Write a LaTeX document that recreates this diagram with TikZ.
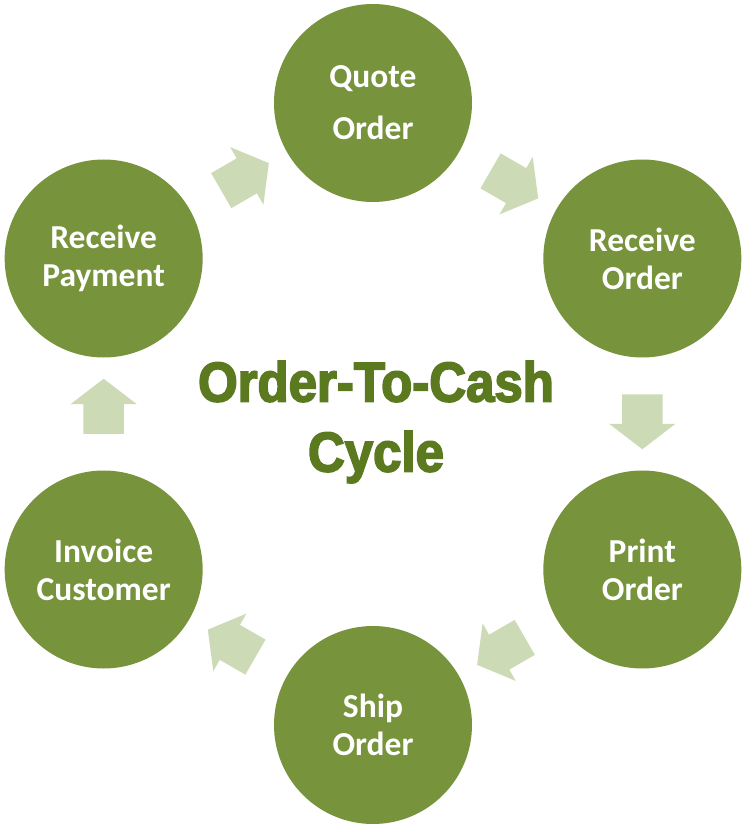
\documentclass[tikz,border=0pt]{standalone}
\usepackage{fontspec}
\setmainfont{Carlito}
\newfontfamily\headfont[FakeBold=3,FakeStretch=0.91]{Liberation Sans Bold}
\usepackage{tikz}
\usetikzlibrary{shapes.arrows, positioning, calc}
\definecolor{stagegreen}{RGB}{119,147,60}
\definecolor{flowgreen}{RGB}{205,218,182}
\definecolor{titlegreen}{RGB}{91,122,31}
\tikzset{
  stage/.style={
    circle, minimum size=198pt, inner sep=0pt, fill=stagegreen,
    text=white, align=center, font=\fontsize{33.5}{38}\selectfont\bfseries
  },
  flow/.style={
    single arrow, fill=flowgreen, draw=none, inner xsep=0pt, inner ysep=20pt,
    minimum height=55pt, single arrow head extend=13pt, single arrow tip angle=105
  },
  title/.style={
    align=center, text=titlegreen, font=\headfont\fontsize{56}{70}\selectfont
  }
}

\begin{document}
\begin{tikzpicture}[x=1pt, y=1pt]
  \useasboundingbox (-373,-425) rectangle (378,414);
  % stages of the cycle
  \node[stage] (quote)   at (90:311)  {Quote\\[14pt]Order};
  \node[stage] (receive) at (30:311)  {Receive\\Order};
  \node[stage] (print)   at (-30:311) {Print\\Order};
  \node[stage] (ship)    at (-90:311) {Ship\\Order};
  \node[stage] (invoice) at (-150:311) {Invoice\\Customer};
  \node[stage] (payment) at (150:311) {Receive\\Payment};

  % block arrows between stages
  \node[flow, rotate=-30]  (f1) at ($(quote)!.5!(receive)$) {};
  \node[flow, rotate=-90]  (f2) at ($(receive)!.5!(print)$) {};
  \node[flow, rotate=-150] (f3) at ($(print)!.5!(ship)$) {};
  \node[flow, rotate=150]  (f4) at ($(ship)!.5!(invoice)$) {};
  \node[flow, rotate=90]   (f5) at ($(invoice)!.5!(payment)$) {};
  \node[flow, rotate=30]   (f6) at ($(payment)!.5!(quote)$) {};

  \node[title] (cycle) at (3,-8) {Order-To-Cash\\Cycle};
\end{tikzpicture}
\end{document}
